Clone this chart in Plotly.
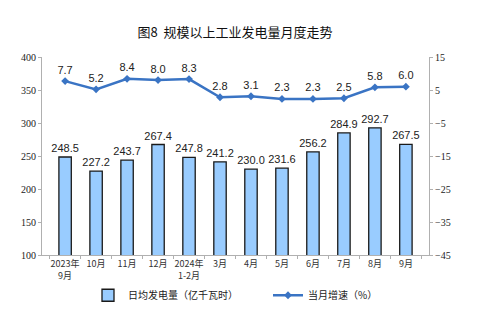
import plotly.graph_objects as go

categories = ["2023年<br>9月", "10月", "11月", "12月", "2024年<br>1-2月", "3月", "4月", "5月", "6月", "7月", "8月", "9月"]
daily_output = [248.5, 227.2, 243.7, 267.4, 247.8, 241.2, 230.0, 231.6, 256.2, 284.9, 292.7, 267.5]
growth = [7.7, 5.2, 8.4, 8.0, 8.3, 2.8, 3.1, 2.3, 2.3, 2.5, 5.8, 6.0]
left_ticks = [100, 150, 200, 250, 300, 350, 400]
right_ticks = [-45, -35, -25, -15, -5, 5, 15]

cjk = "Noto Sans CJK SC"
num_font = "Liberation Serif"

fig = go.Figure()
fig.add_trace(go.Bar(
    x=categories, y=daily_output, name="日均发电量（亿千瓦时）",
    marker=dict(color="#99CCFF", line=dict(color="#1a1a1a", width=1.3)),
    text=[f"{v:.1f}" for v in daily_output], textposition="outside",
    constraintext="none",
    textfont=dict(family="Liberation Sans", size=11, color="#222"),
    cliponaxis=False, yaxis="y", legend="legend",
))
fig.add_trace(go.Scatter(
    x=categories, y=growth, name="当月增速（%）", mode="lines+markers+text",
    line=dict(color="#3A74C4", width=2.5),
    marker=dict(symbol="diamond", size=6, color="#3A74C4"),
    text=[f"{v:.1f}" for v in growth], textposition="top center",
    textfont=dict(family="Liberation Sans", size=11, color="#222"),
    cliponaxis=False, yaxis="y2", legend="legend2",
))

legend_common = dict(orientation="h", yanchor="top", y=-0.13,
                     font=dict(family=cjk, size=10, color="#222"), itemwidth=30,
                     bgcolor="rgba(0,0,0,0)")

fig.update_layout(
    width=492, height=327,
    margin=dict(l=42, r=63, t=57, b=72, autoexpand=False),
    paper_bgcolor="white", plot_bgcolor="white",
    title=dict(text="图8  规模以上工业发电量月度走势", x=235/492, xanchor="center",
               y=1 - 32/327, yanchor="middle",
               font=dict(family=cjk, size=13, color="#111")),
    bargap=0.6,
    showlegend=True,
    legend=dict(x=(88 - 42) / 387, xanchor="left", **legend_common),
    legend2=dict(x=(268 - 42) / 387, xanchor="left", **legend_common),
    xaxis=dict(showline=True, linecolor="#b0b0b0", linewidth=1, tickangle=0,
               tickfont=dict(family=cjk, size=9, color="#333"),
               ticks="outside", tickson="boundaries", ticklen=3, tickcolor="#b0b0b0",
               showgrid=False),
    yaxis=dict(range=[100, 400], tickvals=left_ticks, showline=True, linecolor="#b0b0b0",
               ticks="outside", ticklen=3, tickcolor="#b0b0b0",
               tickfont=dict(family=num_font, size=10, color="#222"), showgrid=False,
               zeroline=False),
    yaxis2=dict(range=[-45, 15], tickvals=right_ticks, overlaying="y", side="right",
                showline=True, linecolor="#b0b0b0", ticks="outside", ticklen=3,
                tickcolor="#b0b0b0",
                tickfont=dict(family=num_font, size=10, color="#222"), showgrid=False,
                zeroline=False),
)

fig.write_html("out.html")
